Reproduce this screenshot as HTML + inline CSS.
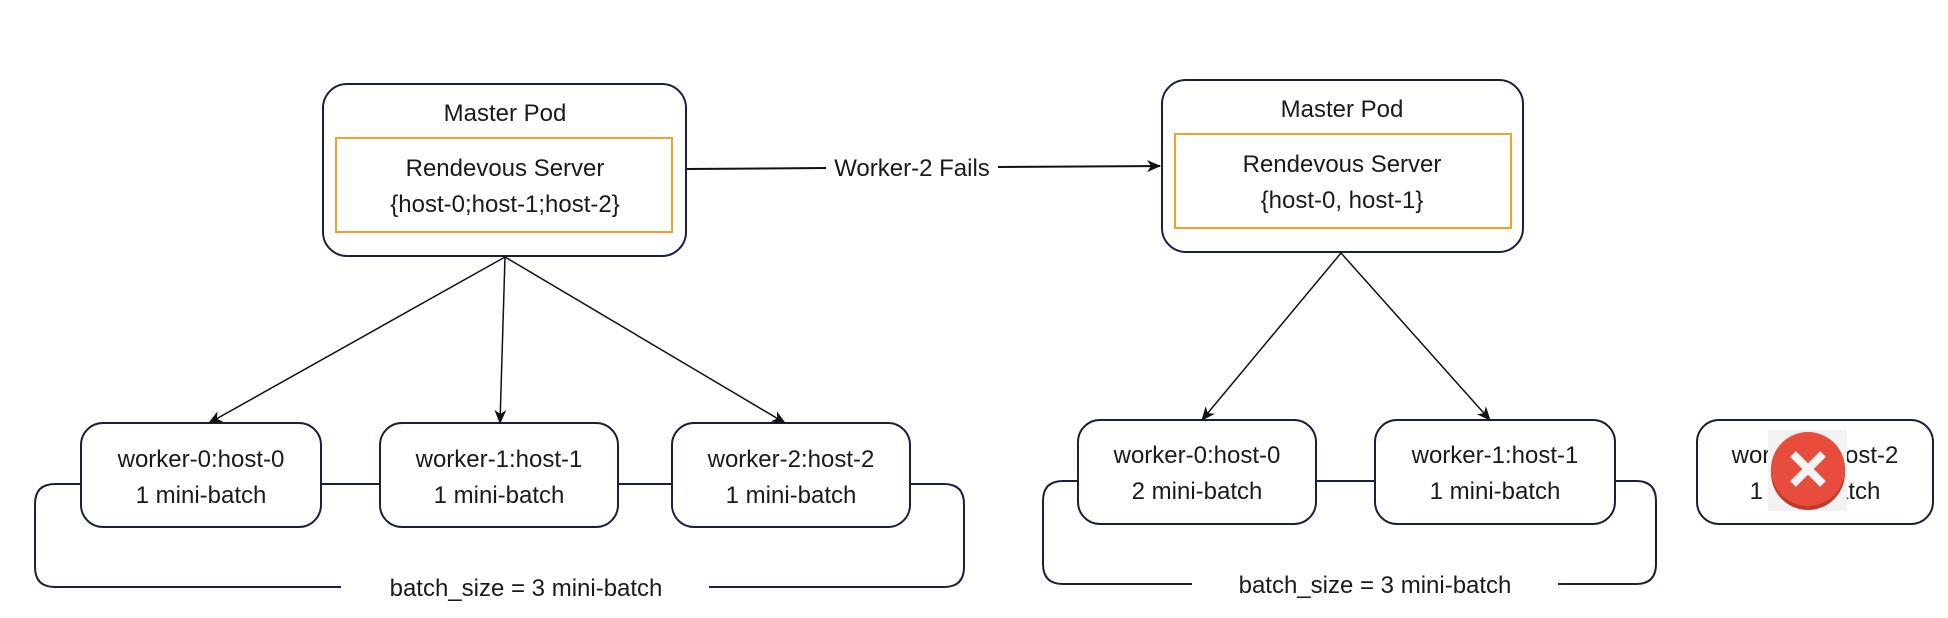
<!DOCTYPE html>
<html><head><meta charset="utf-8"><style>
html,body{margin:0;padding:0;background:#fff;}
svg{display:block;}
text{font-family:"Liberation Sans","DejaVu Sans",sans-serif;font-size:24px;fill:#1a1a1a;text-anchor:middle;}
</style></head><body>
<svg width="1948" height="618" viewBox="0 0 1948 618" xmlns="http://www.w3.org/2000/svg">
<defs>
<marker id="ah" markerWidth="14" markerHeight="14" refX="13" refY="7" orient="auto" markerUnits="userSpaceOnUse">
<path d="M0,1 L14,7 L0,13 L4,7 z" fill="#111"/>
</marker>
</defs>
<g fill="none" stroke="#1b1f3f" stroke-width="2">
<rect x="323" y="84" width="363" height="172" rx="24"/>
<rect x="1162" y="80" width="361" height="172" rx="24"/>
<rect x="81" y="423" width="240" height="104" rx="22"/>
<rect x="380" y="423" width="238" height="104" rx="22"/>
<rect x="672" y="423" width="238" height="104" rx="22"/>
<rect x="1078" y="420" width="238" height="104" rx="22"/>
<rect x="1375" y="420" width="240" height="104" rx="22"/>
<rect x="1697" y="420" width="236" height="104" rx="22"/>
<path d="M81,484 H55 Q35,484 35,504 V567 Q35,587 55,587 H341"/>
<path d="M709,587 H944 Q964,587 964,567 V504 Q964,484 944,484 H910"/>
<line x1="321" y1="484" x2="380" y2="484"/>
<line x1="618" y1="484" x2="672" y2="484"/>
<path d="M1078,481 H1063 Q1043,481 1043,501 V564 Q1043,584 1063,584 H1192"/>
<path d="M1558,584 H1636 Q1656,584 1656,564 V501 Q1656,481 1636,481 H1615"/>
<line x1="1316" y1="481" x2="1375" y2="481"/>
</g>
<g fill="none" stroke="#f0a030" stroke-width="2">
<rect x="336" y="138" width="336" height="94"/>
<rect x="1175" y="134" width="336" height="94"/>
</g>
<g stroke="#111" stroke-width="1.5" marker-end="url(#ah)">
<line x1="505" y1="257" x2="209" y2="423"/>
<line x1="505" y1="257" x2="500" y2="423"/>
<line x1="505" y1="257" x2="785" y2="423"/>
<line x1="1341" y1="253" x2="1202" y2="420"/>
<line x1="1341" y1="253" x2="1490" y2="420"/>
</g>
<g stroke="#111" stroke-width="2">
<line x1="686" y1="169" x2="826" y2="168"/>
<line x1="998" y1="167" x2="1160" y2="166" marker-end="url(#ah)"/>
</g>
<text x="505" y="121">Master Pod</text>
<text x="505" y="176">Rendevous Server</text>
<text x="505" y="212">{host-0;host-1;host-2}</text>
<text x="1342" y="117">Master Pod</text>
<text x="1342" y="172">Rendevous Server</text>
<text x="1342" y="208">{host-0, host-1}</text>
<text x="912" y="176">Worker-2 Fails</text>
<text x="201" y="467">worker-0:host-0</text>
<text x="201" y="503">1 mini-batch</text>
<text x="499" y="467">worker-1:host-1</text>
<text x="499" y="503">1 mini-batch</text>
<text x="791" y="467">worker-2:host-2</text>
<text x="791" y="503">1 mini-batch</text>
<text x="526" y="596">batch_size = 3 mini-batch</text>
<text x="1197" y="463">worker-0:host-0</text>
<text x="1197" y="499">2 mini-batch</text>
<text x="1495" y="463">worker-1:host-1</text>
<text x="1495" y="499">1 mini-batch</text>
<text x="1815" y="463">worker-2:host-2</text>
<text x="1815" y="499">1 mini-batch</text>
<text x="1375" y="593">batch_size = 3 mini-batch</text>
<rect x="1768" y="430" width="79" height="81" fill="#f2f2f2"/>
<circle cx="1808" cy="473" r="37" fill="#c0392b"/>
<circle cx="1808" cy="469" r="37" fill="#e74c3c"/>
<g stroke="#f4f4f4" stroke-width="8">
<line x1="1793" y1="454" x2="1823" y2="484"/>
<line x1="1823" y1="454" x2="1793" y2="484"/>
</g>
</svg>
</body></html>
